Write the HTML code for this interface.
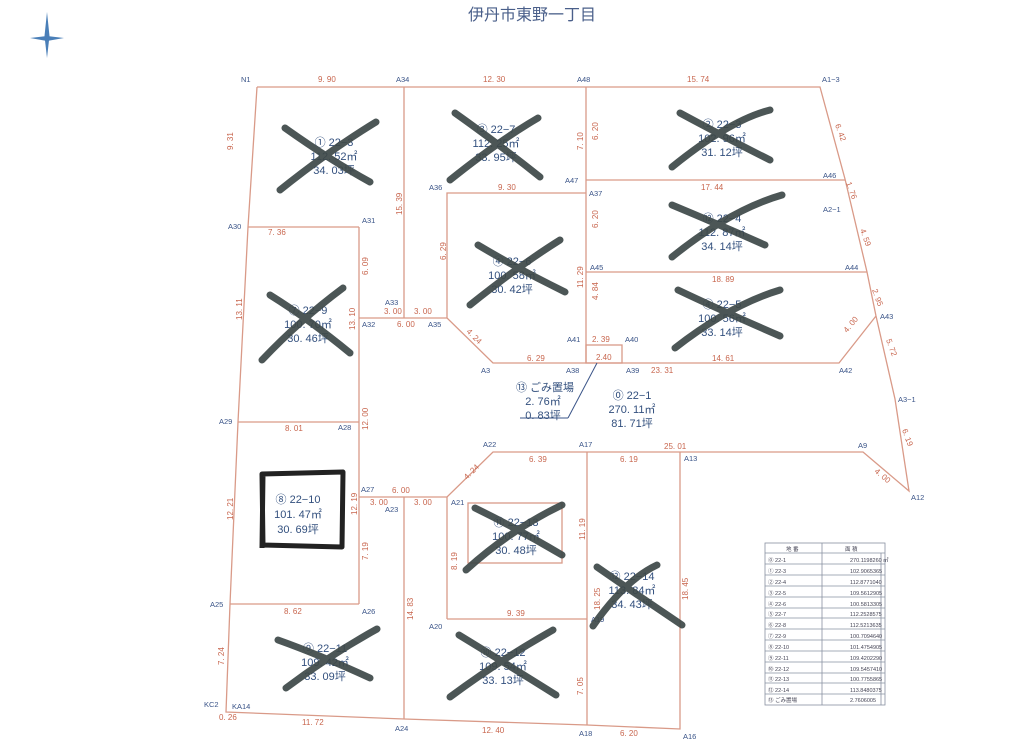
<!DOCTYPE html>
<html><head><meta charset="utf-8"><style>
html,body{margin:0;padding:0;background:#fff;}
svg{display:block;}
.d{fill:#c8664e;font-family:"Liberation Sans",sans-serif;font-size:8px;}
.p{fill:#3a5488;font-family:"Liberation Sans",sans-serif;font-size:7.5px;}
.t{fill:#33507e;font-family:"Liberation Sans","Noto Sans CJK JP",sans-serif;font-size:11px;text-anchor:middle;}
.x{stroke:#3d4848;stroke-width:7;stroke-linecap:round;fill:none;opacity:.92;}
.tb{font-family:"Liberation Sans","Noto Sans CJK JP",sans-serif;font-size:5.5px;fill:#445;}
</style></head><body>
<svg width="1024" height="742" viewBox="0 0 1024 742" xmlns="http://www.w3.org/2000/svg">
<rect width="1024" height="742" fill="#fff"/>
<g fill="#4a7fb8">
<polygon points="47,12 49.5,36 47,58 44.5,36"/>
<polygon points="30,38 47,36 64,38 47,41"/>
</g>
<text x="532" y="20" style="font-family:'Liberation Sans','Noto Sans CJK JP',sans-serif;font-size:16px;fill:#4a5f8a;text-anchor:middle">伊丹市東野一丁目</text>

<g stroke="#d99a88" stroke-width="1.3" fill="none">
<polyline points="257,87 820,87 845,179 867,272 876,316 895,399 909,491 863,452 680,452"/>
<polyline points="257,87 248,227 238,422 230,604 226,712 404,719 587,725 680,729 680,452"/>
<line x1="404" y1="87" x2="404" y2="318"/>
<line x1="586" y1="87" x2="586" y2="363"/>
<line x1="586" y1="180" x2="845" y2="180"/>
<polyline points="586,193 447,193 447,318 493,363 839,363 876,316"/>
<line x1="586" y1="272" x2="867" y2="272"/>
<line x1="248" y1="227" x2="359" y2="227"/>
<line x1="359" y1="227" x2="359" y2="604"/>
<line x1="359" y1="318" x2="447" y2="318"/>
<line x1="238" y1="422" x2="359" y2="422"/>
<line x1="230" y1="604" x2="359" y2="604"/>
<polyline points="359,497 447,497 493,452 680,452"/>
<line x1="404" y1="497" x2="404" y2="719"/>
<line x1="447" y1="497" x2="447" y2="619"/>
<line x1="447" y1="619" x2="587" y2="619"/>
<line x1="587" y1="452" x2="587" y2="725"/>
<rect x="586" y="345" width="36" height="18"/>
<rect x="468" y="503" width="94" height="60"/>
</g>
<line x1="597" y1="363" x2="568" y2="418" stroke="#3a5488" stroke-width="1"/>
<line x1="520" y1="418" x2="568" y2="418" stroke="#3a5488" stroke-width="1"/>

<g class="p">
<text x="241" y="82">N1</text><text x="396" y="82">A34</text><text x="577" y="82">A48</text><text x="822" y="82">A1−3</text>
<text x="228" y="229">A30</text><text x="362" y="223">A31</text>
<text x="429" y="190">A36</text><text x="589" y="196">A37</text><text x="565" y="183">A47</text><text x="823" y="178">A46</text>
<text x="823" y="212">A2−1</text><text x="590" y="270">A45</text><text x="845" y="270">A44</text><text x="880" y="319">A43</text>
<text x="385" y="305">A33</text><text x="362" y="327">A32</text><text x="428" y="327">A35</text>
<text x="567" y="342">A41</text><text x="625" y="342">A40</text><text x="481" y="373">A3</text><text x="566" y="373">A38</text><text x="626" y="373">A39</text><text x="839" y="373">A42</text>
<text x="898" y="402">A3−1</text><text x="911" y="500">A12</text><text x="858" y="448">A9</text><text x="684" y="461">A13</text>
<text x="219" y="424">A29</text><text x="338" y="430">A28</text>
<text x="483" y="447">A22</text><text x="579" y="447">A17</text>
<text x="361" y="492">A27</text><text x="385" y="512">A23</text><text x="451" y="505">A21</text>
<text x="210" y="607">A25</text><text x="362" y="614">A26</text><text x="429" y="629">A20</text><text x="591" y="622">A19</text>
<text x="204" y="707">KC2</text><text x="232" y="709">KA14</text><text x="395" y="731">A24</text><text x="579" y="736">A18</text><text x="683" y="739">A16</text>
</g>
<g class="d">
<text x="318" y="82">9. 90</text><text x="483" y="82">12. 30</text><text x="687" y="82">15. 74</text>
<text x="498" y="190">9. 30</text><text x="701" y="190">17. 44</text><text x="712" y="282">18. 89</text>
<text x="268" y="235">7. 36</text><text x="384" y="314">3. 00</text><text x="414" y="314">3. 00</text><text x="397" y="327">6. 00</text>
<text x="527" y="361">6. 29</text><text x="712" y="361">14. 61</text><text x="651" y="373">23. 31</text><text x="592" y="342">2. 39</text><text x="596" y="360">2.40</text>
<text x="285" y="431">8. 01</text><text x="284" y="614">8. 62</text><text x="392" y="493">6. 00</text><text x="370" y="505">3. 00</text><text x="414" y="505">3. 00</text>
<text x="529" y="462">6. 39</text><text x="620" y="462">6. 19</text><text x="664" y="449">25. 01</text><text x="507" y="616">9. 39</text>
<text x="302" y="725">11. 72</text><text x="482" y="733">12. 40</text><text x="620" y="736">6. 20</text><text x="219" y="720">0. 26</text>
</g>
<g class="d">
<text transform="translate(233,150) rotate(-90)">9. 31</text>
<text transform="translate(242,320) rotate(-90)">13. 11</text>
<text transform="translate(233,520) rotate(-90)">12. 21</text>
<text transform="translate(224,665) rotate(-90)">7. 24</text>
<text transform="translate(402,215) rotate(-90)">15. 39</text>
<text transform="translate(446,260) rotate(-90)">6. 29</text>
<text transform="translate(368,275) rotate(-90)">6. 09</text>
<text transform="translate(355,330) rotate(-90)">13. 10</text>
<text transform="translate(368,430) rotate(-90)">12. 00</text>
<text transform="translate(357,515) rotate(-90)">12. 19</text>
<text transform="translate(368,560) rotate(-90)">7. 19</text>
<text transform="translate(413,620) rotate(-90)">14. 83</text>
<text transform="translate(457,570) rotate(-90)">8. 19</text>
<text transform="translate(583,150) rotate(-90)">7. 10</text>
<text transform="translate(598,140) rotate(-90)">6. 20</text>
<text transform="translate(598,228) rotate(-90)">6. 20</text>
<text transform="translate(583,288) rotate(-90)">11. 29</text>
<text transform="translate(598,300) rotate(-90)">4. 84</text>
<text transform="translate(585,540) rotate(-90)">11. 19</text>
<text transform="translate(600,610) rotate(-90)">18. 25</text>
<text transform="translate(583,695) rotate(-90)">7. 05</text>
<text transform="translate(688,600) rotate(-90)">18. 45</text>
<text transform="translate(835,125) rotate(70)">6. 42</text>
<text transform="translate(846,183) rotate(70)">1. 76</text>
<text transform="translate(860,230) rotate(70)">4. 59</text>
<text transform="translate(872,290) rotate(70)">2. 95</text>
<text transform="translate(886,340) rotate(70)">5. 72</text>
<text transform="translate(902,430) rotate(70)">6. 19</text>
<text transform="translate(847,333) rotate(-50)">4. 00</text>
<text transform="translate(466,332) rotate(45)">4. 24</text>
<text transform="translate(467,480) rotate(-45)">4. 24</text>
<text transform="translate(874,472) rotate(40)">4. 00</text>
</g>

<g class="t">
<text x="334" y="146">① 22−3</text><text x="334" y="160">112. 52㎡</text><text x="334" y="174">34. 03坪</text>
<text x="496" y="133">③ 22−7</text><text x="496" y="147">112. 25㎡</text><text x="496" y="161">33. 95坪</text>
<text x="722" y="128">② 22−3</text><text x="722" y="142">102. 96㎡</text><text x="722" y="156">31. 12坪</text>
<text x="722" y="222">⑫ 22−4</text><text x="722" y="236">112. 87㎡</text><text x="722" y="250">34. 14坪</text>
<text x="722" y="308">④ 22−5</text><text x="722" y="322">100. 56㎡</text><text x="722" y="336">33. 14坪</text>
<text x="512" y="265">④ 22−6</text><text x="512" y="279">100. 58㎡</text><text x="512" y="293">30. 42坪</text>
<text x="308" y="314">⑦ 22−9</text><text x="308" y="328">100. 70㎡</text><text x="308" y="342">30. 46坪</text>
<text x="298" y="503">⑧ 22−10</text><text x="298" y="518">101. 47㎡</text><text x="298" y="533">30. 69坪</text>
<text x="516" y="526">⑪ 22−13</text><text x="516" y="540">100. 77㎡</text><text x="516" y="554">30. 48坪</text>
<text x="632" y="580">⑫ 22−14</text><text x="632" y="594">113. 84㎡</text><text x="632" y="608">34. 43坪</text>
<text x="325" y="652">⑨ 22−11</text><text x="325" y="666">109. 42㎡</text><text x="325" y="680">33. 09坪</text>
<text x="503" y="656">⑩ 22−12</text><text x="503" y="670">109. 54㎡</text><text x="503" y="684">33. 13坪</text>
<text x="545" y="391">⑬ ごみ置場</text><text x="543" y="405">2. 76㎡</text><text x="543" y="419">0. 83坪</text>
<text x="632" y="399">⓪ 22−1</text><text x="632" y="413">270. 11㎡</text><text x="632" y="427">81. 71坪</text>
</g>

<path class="x" d="M285,128 Q330,160 370,182 M280,190 Q330,150 376,122"/>
<path class="x" d="M455,113 Q500,145 540,177 M450,180 Q500,140 538,118"/>
<path class="x" d="M680,113 Q730,140 770,160 M672,167 Q730,120 770,110"/>
<path class="x" d="M672,205 Q720,225 765,245 M672,257 Q730,210 782,195"/>
<path class="x" d="M678,290 Q720,310 780,336 M675,348 Q730,305 780,290"/>
<path class="x" d="M478,245 Q520,270 565,292 M470,305 Q520,265 560,240"/>
<path class="x" d="M270,295 Q310,320 350,353 M262,360 Q300,320 343,288"/>
<path class="x" d="M475,508 Q520,530 562,555 M466,570 Q510,530 562,505"/>
<path class="x" d="M597,567 Q630,590 682,625 M593,626 Q625,580 657,565"/>
<path class="x" d="M278,640 Q320,655 370,678 M286,688 Q330,655 377,629"/>
<path class="x" d="M459,635 Q500,660 556,695 M450,697 Q500,660 553,630"/>
<path d="M262,474 L343,472 L342,547 L263,545 Z M263,474 L262,548" stroke="#222" stroke-width="5" fill="none" stroke-linejoin="round"/>

<g stroke="#8890a0" stroke-width=".8" fill="none">
<rect x="765" y="543" width="120" height="162"/>
<line x1="822" y1="543" x2="822" y2="705"/>
<line x1="881" y1="553" x2="881" y2="705"/>
<line x1="765" y1="553" x2="885" y2="553"/>
<line x1="765" y1="564" x2="885" y2="564"/>
<line x1="765" y1="575" x2="885" y2="575"/>
<line x1="765" y1="586" x2="885" y2="586"/>
<line x1="765" y1="597" x2="885" y2="597"/>
<line x1="765" y1="608" x2="885" y2="608"/>
<line x1="765" y1="618" x2="885" y2="618"/>
<line x1="765" y1="629" x2="885" y2="629"/>
<line x1="765" y1="640" x2="885" y2="640"/>
<line x1="765" y1="651" x2="885" y2="651"/>
<line x1="765" y1="662" x2="885" y2="662"/>
<line x1="765" y1="673" x2="885" y2="673"/>
<line x1="765" y1="683" x2="885" y2="683"/>
<line x1="765" y1="694" x2="885" y2="694"/>
</g>
<g class="tb">
<text x="786" y="551">地 番</text><text x="845" y="551">面 積</text>
<text x="768" y="562">⓪ 22-1</text><text x="850" y="562">270.1198260</text><text x="883" y="562">㎡</text>
<text x="768" y="573">① 22-3</text><text x="850" y="573">102.9065365</text>
<text x="768" y="584">② 22-4</text><text x="850" y="584">112.8771040</text>
<text x="768" y="595">③ 22-5</text><text x="850" y="595">109.5612905</text>
<text x="768" y="606">④ 22-6</text><text x="850" y="606">100.5813305</text>
<text x="768" y="616">⑤ 22-7</text><text x="850" y="616">112.2528575</text>
<text x="768" y="627">⑥ 22-8</text><text x="850" y="627">112.5213635</text>
<text x="768" y="638">⑦ 22-9</text><text x="850" y="638">100.7094640</text>
<text x="768" y="649">⑧ 22-10</text><text x="850" y="649">101.4754905</text>
<text x="768" y="660">⑨ 22-11</text><text x="850" y="660">109.4202290</text>
<text x="768" y="671">⑩ 22-12</text><text x="850" y="671">109.5457410</text>
<text x="768" y="681">⑪ 22-13</text><text x="850" y="681">100.7755865</text>
<text x="768" y="692">⑫ 22-14</text><text x="850" y="692">113.8480375</text>
<text x="768" y="702">⑬ ごみ置場</text><text x="850" y="702">2.7606005</text>
</g>
</svg>
</body></html>
